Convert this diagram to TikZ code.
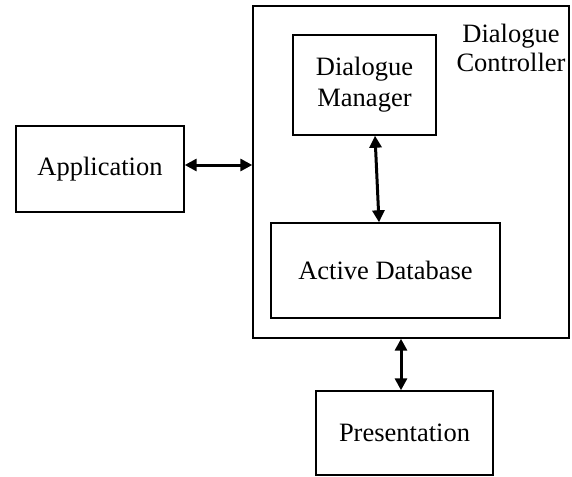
\documentclass[tikz,border=0pt]{standalone}
\usepackage{fontspec}
\setmainfont{Liberation Serif}
\usepackage{tikz}
\usetikzlibrary{positioning,calc,arrows.meta}

\begin{document}
\begin{tikzpicture}[x=1pt, y=-1pt, line width=1.4pt,
    box/.style={draw, rectangle, align=center, inner sep=0pt, font=\fontsize{26.5}{31}\selectfont},
    link/.style={{Triangle[length=12pt,width=12pt]}-{Triangle[length=12pt,width=12pt]}, line width=3pt}]
            \useasboundingbox (0,0) rectangle (572,476);
            \node[box, minimum width=168pt, minimum height=86pt] (app) at (100,169) {Application};
            \node[box, minimum width=316pt, minimum height=332pt] (ctrl) at (411,172) {};
            \node[align=center, font=\fontsize{26.5}{29}\selectfont] (ctrlname) at (511,48) {Dialogue\\Controller};
            \node[box, minimum width=143pt, minimum height=100pt] (mgr) at (364.5,85) {Dialogue\\Manager};
            \node[box, minimum width=229pt, minimum height=95pt] (adb) at (385.5,270.5) {Active Database};
            \node[box, minimum width=177pt, minimum height=84pt] (pres) at (404.5,433) {Presentation};
            \draw[link] ([yshift=4pt]app.east) -- ([yshift=4pt]app.east -| ctrl.west);
            \draw[link] ([xshift=10.5pt]mgr.south) -- ([xshift=-6.5pt]adb.north);
            \draw[link] ([xshift=-10pt]ctrl.south) -- ([xshift=-3.5pt]pres.north);
        \end{tikzpicture}
\end{document}
